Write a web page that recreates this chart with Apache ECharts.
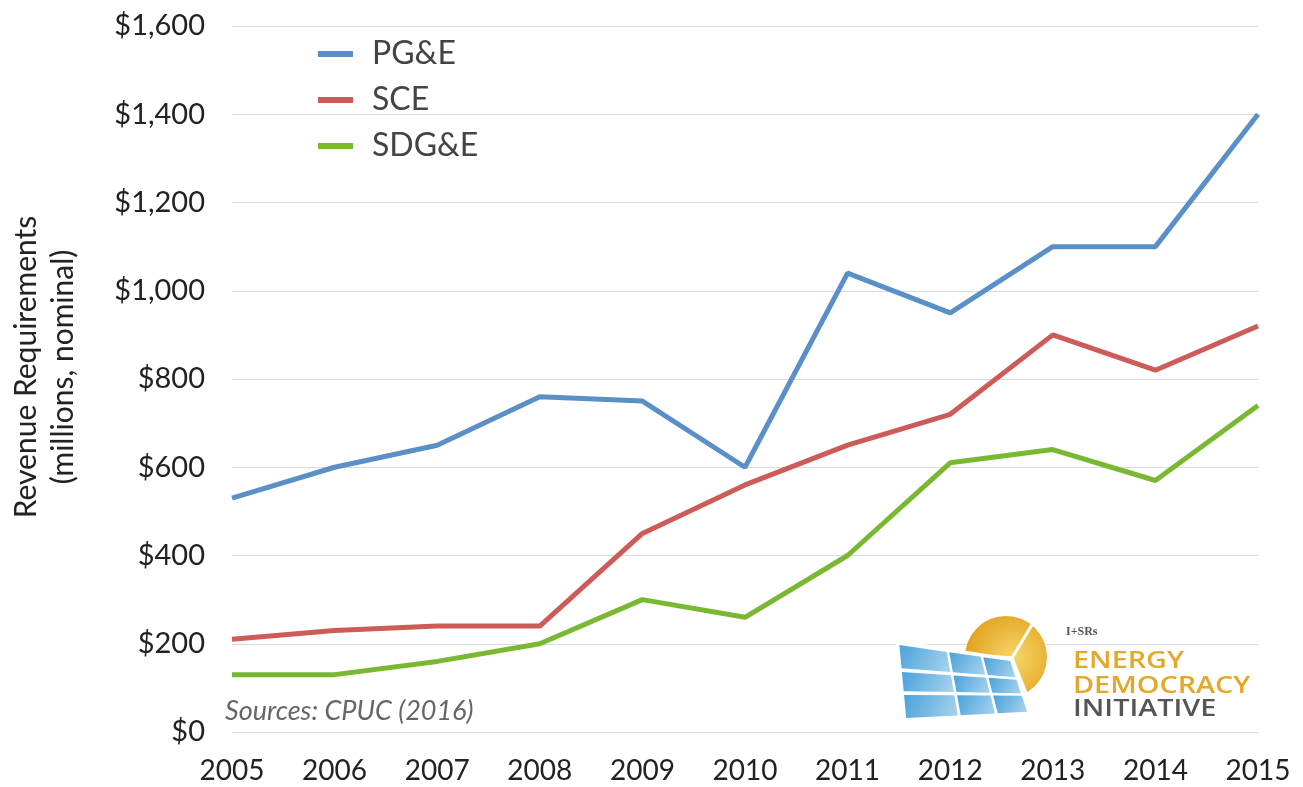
<!DOCTYPE html>
<html><head><meta charset="utf-8">
<script src="https://cdn.jsdelivr.net/npm/echarts@6/dist/echarts.min.js"></script>
<style>html,body{margin:0;padding:0;background:#fff}#c{width:1303px;height:787px}</style>
</head><body><div id="c"></div>
<script>
const years = ['2005','2006','2007','2008','2009','2010','2011','2012','2013','2014','2015'];
const pge   = [530, 600, 650, 760, 750, 600, 1040, 950, 1100, 1100, 1400];
const sce   = [210, 230, 240, 240, 450, 560, 650, 720, 900, 820, 920];
const sdge  = [130, 130, 160, 200, 300, 260, 400, 610, 640, 570, 740];
const seriesNames = ['PG&E', 'SCE', 'SDG&E'];
const colors = ['#5b8fc8', '#cd5b57', '#79b831'];
const FONT = 'Lato, "Open Sans", sans-serif';

const chart = echarts.init(document.getElementById('c'), null, {renderer: 'canvas'});

// logo helpers
function lerp(a, b, t) { return [a[0] + (b[0] - a[0]) * t, a[1] + (b[1] - a[1]) * t]; }
function bil(u, v) {
  const TL = [898, 643], TR = [1011, 660], BR = [1029, 713], BL = [905, 720];
  const top = lerp(TL, TR, u), bot = lerp(BL, BR, u);
  return lerp(top, bot, v);
}
const colsU = [0, 0.44, 0.74, 1];
const rowsV = [0, 0.35, 0.65, 1];
const panelCells = [{
  type: 'polygon', z: 19.5,
  shape: {points: [bil(-0.02, -0.04), bil(1.02, -0.04), bil(1.02, 1.04), bil(-0.02, 1.04)]},
  style: {fill: '#fff'}
}];
for (let r = 0; r < 3; r++) {
  for (let c = 0; c < 3; c++) {
    const g = 0.011;
    const u0 = colsU[c] + g, u1 = colsU[c + 1] - g, v0 = rowsV[r] + g * 2.2, v1 = rowsV[r + 1] - g * 2.2;
    panelCells.push({
      type: 'polygon', z: 20,
      shape: {points: [bil(u0, v0), bil(u1, v0), bil(u1, v1), bil(u0, v1)]},
      style: {fill: new echarts.graphic.LinearGradient(0, 0, 1, 1, [
        {offset: 0, color: '#4aa2da'}, {offset: 1, color: '#a8d4ef'}])}
    });
  }
}
const hub = [1012, 658];
function blade(angDeg, len) {
  const a = angDeg * Math.PI / 180;
  return {type: 'line', z: 19, shape: {x1: hub[0], y1: hub[1], x2: hub[0] + len * Math.cos(a), y2: hub[1] + len * Math.sin(a)},
    style: {stroke: '#fff', lineWidth: 3}};
}

const option = {
  backgroundColor: '#fff',
  animation: false,
  color: colors,
  textStyle: {fontFamily: FONT},
  grid: {left: 230, right: 45, top: 26, bottom: 55, containLabel: false},
  legend: {
    orient: 'vertical', left: 313, top: 33, itemGap: 14,
    itemWidth: 35, itemHeight: 6, icon: 'rect',
    textStyle: {fontSize: 32, color: '#444', fontFamily: FONT, padding: [0, 0, 0, 14]},
    data: seriesNames
  },
  xAxis: {
    type: 'category', data: years, boundaryGap: false,
    axisLine: {show: false}, axisTick: {show: false},
    axisLabel: {fontSize: 28, color: '#222', margin: 25, fontFamily: FONT}
  },
  yAxis: {
    type: 'value', min: 0, max: 1600, interval: 200,
    name: 'Revenue Requirements\n(millions, nominal)',
    nameLocation: 'middle', nameGap: 150, nameRotate: 90,
    nameTextStyle: {fontSize: 30, color: '#222', lineHeight: 37, fontFamily: FONT, padding: [0, 0, 0, 24]},
    axisLine: {show: false}, axisTick: {show: false},
    splitLine: {lineStyle: {color: '#dcdcdc', width: 1}},
    axisLabel: {fontSize: 29, color: '#222', margin: 27, fontFamily: FONT,
      formatter: v => '$' + v.toLocaleString('en-US')}
  },
  series: [
    {name: seriesNames[0], type: 'line', data: pge, symbol: 'none', lineStyle: {width: 5}, z: 3},
    {name: seriesNames[1], type: 'line', data: sce, symbol: 'none', lineStyle: {width: 5}, z: 3},
    {name: seriesNames[2], type: 'line', data: sdge, symbol: 'none', lineStyle: {width: 5}, z: 3}
  ],
  graphic: [
    {type: 'text', x: 225, y: 711, z: 10,
      style: {text: 'Sources: CPUC (2016)', fontSize: 27, fontStyle: 'italic', fill: '#666', fontFamily: FONT, verticalAlign: 'middle'}},
    // sun
    {type: 'circle', z: 18, shape: {cx: 1006, cy: 657, r: 41},
      style: {fill: new echarts.graphic.RadialGradient(0.6, 0.5, 0.6, [
        {offset: 0, color: '#f7d66a'}, {offset: 1, color: '#e2a31f'}])}},
    blade(-59, 45), blade(68, 45), blade(185, 30),
    ...panelCells,
    {type: 'text', x: 1066, y: 632, z: 21,
      style: {text: 'I+SRs', fontSize: 12, fontFamily: '"Liberation Serif", serif', fontWeight: 'bold', fill: '#555', verticalAlign: 'middle'}},
    {type: 'text', x: 1073, y: 661, scaleX: 1.2, z: 21,
      style: {text: 'ENERGY', fontSize: 24, fontWeight: 600, fill: '#e3a72a', fontFamily: '"Open Sans", sans-serif', verticalAlign: 'middle'}},
    {type: 'text', x: 1073, y: 686, scaleX: 1.2, z: 21,
      style: {text: 'DEMOCRACY', fontSize: 24, fontWeight: 600, fill: '#e3a72a', fontFamily: '"Open Sans", sans-serif', verticalAlign: 'middle'}},
    {type: 'text', x: 1073, y: 709, scaleX: 1.2, z: 21,
      style: {text: 'INITIATIVE', fontSize: 24, fontWeight: 600, fill: '#555', fontFamily: '"Open Sans", sans-serif', verticalAlign: 'middle'}}
  ]
};
chart.setOption(option);
</script>
</body></html>
